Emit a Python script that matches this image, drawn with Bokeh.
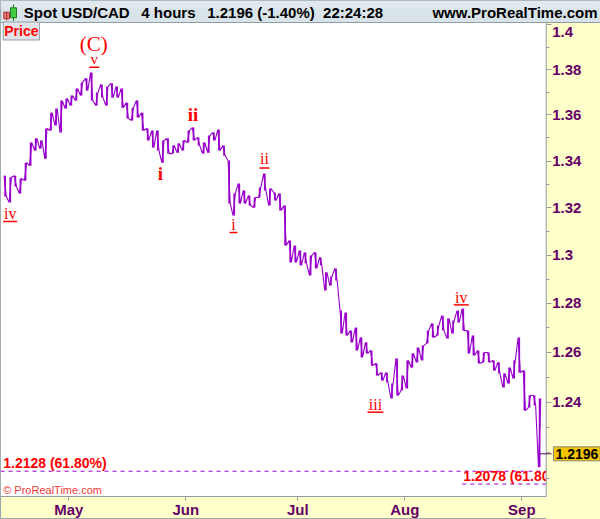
import math
from bokeh.plotting import figure
from bokeh.models import Range1d, FixedTicker, Label, ColumnDataSource
from bokeh.core.properties import value
from bokeh.embed import file_html
from bokeh.resources import INLINE

# ---------------- data ----------------
# trading-day index, 0 = first trading day of May 2017 (4-hour chart, weekends skipped)
days = list(range(-13, 93))
highs = [1.3337, 1.3329, 1.3337, 1.3325, 1.3393, 1.3480, 1.3498, 1.3489, 1.3541, 1.3610,
         1.3628, 1.3663, 1.3672, 1.3685, 1.3716, 1.3743, 1.3761, 1.3787, 1.3698, 1.3734,
         1.3725, 1.3739, 1.3725, 1.3716, 1.3654, 1.3632, 1.3663, 1.3610, 1.3541, 1.3532,
         1.3532, 1.3489, 1.3498, 1.3467, 1.3476, 1.3489, 1.3532, 1.3545, 1.3502, 1.3480,
         1.3510, 1.3523, 1.3536, 1.3467, 1.3402, 1.3261, 1.3303, 1.3274, 1.3252, 1.3244,
         1.3286, 1.3346, 1.3282, 1.3265, 1.3261, 1.3210, 1.3062, 1.3041, 1.3020, 1.3012,
         1.2999, 1.3012, 1.2991, 1.2929, 1.2912, 1.2945, 1.2771, 1.2763, 1.2689, 1.2701,
         1.2661, 1.2641, 1.2608, 1.2556, 1.2519, 1.2519, 1.2475, 1.2576, 1.2507, 1.2568,
         1.2596, 1.2620, 1.2628, 1.2689, 1.2718, 1.2710, 1.2750, 1.2738, 1.2730, 1.2771,
         1.2779, 1.2689, 1.2669, 1.2608, 1.2600, 1.2600, 1.2568, 1.2560, 1.2515, 1.2539,
         1.2568, 1.2661, 1.2527, 1.2427, 1.2427, 1.2415]
lows = [1.3248, 1.3223, 1.3291, 1.3261, 1.3316, 1.3380, 1.3445, 1.3454, 1.3410, 1.3532,
        1.3554, 1.3523, 1.3628, 1.3641, 1.3663, 1.3685, 1.3707, 1.3663, 1.3641, 1.3676,
        1.3641, 1.3676, 1.3676, 1.3632, 1.3585, 1.3576, 1.3589, 1.3532, 1.3489, 1.3458,
        1.3445, 1.3393, 1.3432, 1.3432, 1.3436, 1.3445, 1.3480, 1.3489, 1.3467, 1.3432,
        1.3436, 1.3489, 1.3445, 1.3423, 1.3218, 1.3167, 1.3218, 1.3218, 1.3210, 1.3201,
        1.3244, 1.3274, 1.3210, 1.3231, 1.3189, 1.3041, 1.2970, 1.2970, 1.2958, 1.2966,
        1.2916, 1.2945, 1.2958, 1.2854, 1.2874, 1.2895, 1.2677, 1.2669, 1.2641, 1.2608,
        1.2580, 1.2596, 1.2547, 1.2507, 1.2487, 1.2479, 1.2415, 1.2427, 1.2447, 1.2455,
        1.2539, 1.2560, 1.2568, 1.2637, 1.2661, 1.2669, 1.2689, 1.2657, 1.2677, 1.2722,
        1.2689, 1.2596, 1.2588, 1.2556, 1.2560, 1.2560, 1.2527, 1.2515, 1.2459, 1.2475,
        1.2495, 1.2519, 1.2367, 1.2379, 1.2387, 1.2144]
last_price = 1.2196

month_ticks = [0, 23, 45, 66, 89]
month_labels = ["May", "Jun", "Jul", "Aug", "Sep"]
y_ticks = [1.24, 1.26, 1.28, 1.30, 1.32, 1.34, 1.36, 1.38, 1.40]
y_tick_labels = ["1.24", "1.26", "1.28", "1.3", "1.32", "1.34", "1.36", "1.38", "1.4"]
y_minor = [1.21, 1.22, 1.23, 1.25, 1.27, 1.29, 1.31, 1.33, 1.35, 1.37, 1.39]

wave_text = ["iv", "(C)", "v", "i", "ii", "i", "ii", "iii", "iv"]
wave_day = [-13, 4, 4, 18, 24, 32, 38, 63, 77]
wave_side = ["low", "high", "high", "low", "high", "low", "high", "low", "high"]

fib_levels = [1.2128, 1.2078]
fib_labels = ["1.2128 (61.80%)", "1.2078 (61.80%)"]
fib_start_day = [None, 77.3]

title_parts = ["Spot USD/CAD", "4 hours", "1.2196 (-1.40%)", "22:24:28"]
site = "www.ProRealTime.com"

# ---------------- scale / layout ----------------
PURPLE = "#9900cc"
AXIS_TXT = "#660066"
RED = "#ff0000"
GRID_GRAY = "#909ca6"
YELLOW = "#ffffcc"
W, H = 600, 519
PPD = 5.09                 # px per trading day
X_MAY = 68.3               # px of first May tick
Y_REF, P_REF, PX_LN = 24.3, 1.40, 3110.0   # log price scale: px of 1.40 and px per ln unit


def px_x(px):
    return (px - X_MAY) / PPD


def px_y(py):
    return P_REF * math.exp(-(py - Y_REF) / PX_LN)


XL, XR = px_x(0), px_x(W)
YT, YB = px_y(0), px_y(H)
XE = px_x(545.7)      # right edge of price pane
YE = px_y(496.0)      # bottom edge of price pane
YH = px_y(22.0)       # bottom of header

# per-label style: x offset, text-centre offset, underline offset (None = none), underline width
w_dx = [5, 2, 2.5, -2.5, -0.5, -0.7, -0.3, -16.5, -2]
w_dy = [16.6, -28.5, -13.6, 10.6, -12.7, 8.6, -14.9, 5.9, -11.4]
w_ul = [25, None, -5.3, None, None, 17, -5.7, 13.7, -3.7]
w_uw = [14, 0, 10, 0, 0, 8, 10, 16, 15]
w_fs = ["16px", "21px", "15px", "19px", "19px", "16px", "16px", "16px", "16px"]
w_st = ["normal", "normal", "normal", "bold", "bold", "normal", "normal", "normal", "normal"]

p = figure(width=W, height=H, x_range=Range1d(XL, XR), y_range=Range1d(YB, YT),
           y_axis_type="log", y_axis_location="right", output_backend="svg",
           toolbar_location=None, min_border=0, title=None)
p.background_fill_color = YELLOW
p.border_fill_color = YELLOW
p.outline_line_color = "#9aa5ae"
p.grid.visible = False

# price pane background
p.quad(left=[XL], right=[XE], bottom=[YE], top=[YH], fill_color="white", line_color=None)

# price bars
xs = [d + 0.5 for d in days]
src = ColumnDataSource(dict(x=xs, hi=highs, lo=lows))
p.segment(x0="x", y0="lo", x1="x", y1="hi", source=src, line_color=PURPLE, line_width=1.7)
zx, zy = [], []
for i in range(len(xs)):
    mid = (highs[i] + lows[i]) / 2
    nxt = (highs[i + 1] + lows[i + 1]) / 2 if i + 1 < len(xs) else mid
    pair = (highs[i], lows[i]) if nxt < mid else (lows[i], highs[i])
    zx += [xs[i] - 0.22, xs[i] + 0.22]
    zy += list(pair)
p.line(zx, zy, line_color=PURPLE, line_width=1.1)

# fib levels
fx0 = [XL if s is None else s for s in fib_start_day]
p.segment(x0=fx0, y0=fib_levels, x1=[XE] * 2, y1=fib_levels, line_color=PURPLE,
          line_width=1, line_dash="4 4")
p.text(x=fx0, y=fib_levels, text=fib_labels, x_offset=[2.7, 0.9], y_offset=[-8.3, -8.3],
       text_font=value("Liberation Sans"), text_font_size="14px", text_font_style="bold",
       text_color=RED, text_baseline="middle", text_align="left")

# wave labels
wx = [d + 0.5 for d in wave_day]
wy = [highs[days.index(d)] if s == "high" else lows[days.index(d)]
      for d, s in zip(wave_day, wave_side)]
wsrc = ColumnDataSource(dict(x=wx, y=wy, t=wave_text, dx=w_dx, dy=w_dy, fs=w_fs, st=w_st))
p.text(x="x", y="y", text="t", x_offset="dx", y_offset="dy", text_font_size="fs",
       text_font_style="st", source=wsrc, text_font=value("Liberation Serif"),
       text_color=RED, text_align="center", text_baseline="middle")
ux0, ux1, uy = [], [], []
for ax_, ay_, dx, ul, uw in zip(wx, wy, w_dx, w_ul, w_uw):
    if ul is None:
        continue
    ux0.append(ax_ + (dx - uw / 2) / PPD)
    ux1.append(ax_ + (dx + uw / 2) / PPD)
    uy.append(ay_ * math.exp(-ul / PX_LN))
p.segment(x0=ux0, y0=uy, x1=ux1, y1=uy, line_color=RED, line_width=1.5)

# yellow axis strip covers anything running past the pane edge
p.quad(left=[XE], right=[XR], bottom=[YB], top=[YH], fill_color=YELLOW, line_color=None)
# pane border
p.quad(left=[XL], right=[XE], bottom=[YE], top=[YH], fill_color=None, line_color=GRID_GRAY,
       line_width=1)
# last-price tick toward the price box
p.segment(x0=[xs[-1]], y0=[last_price], x1=[px_x(551)], y1=[last_price], line_color="#550055",
          line_width=1)

# header bar
p.quad(left=[XL], right=[XR], bottom=[YH], top=[YT], fill_color="#d9e3ea", line_color=GRID_GRAY)
p.quad(left=[XL], right=[XR], bottom=[px_y(8)], top=[YT], fill_color="#e1e9ee", line_color=None)
p.quad(left=[px_x(3.3)], right=[px_x(9)], bottom=[px_y(18.3)], top=[px_y(11.7)],
       fill_color="#f07a7a", line_color="#a83030")
p.segment(x0=[px_x(6.2)], y0=[px_y(20)], x1=[px_x(6.2)], y1=[px_y(11.7)], line_color="#a83030")
p.segment(x0=[px_x(13)], y0=[px_y(20.5)], x1=[px_x(13)], y1=[px_y(4)], line_color="#207a20")
p.quad(left=[px_x(10)], right=[px_x(16)], bottom=[px_y(17.3)], top=[px_y(7.3)],
       fill_color="#44cc44", line_color="#207a20")
p.text(x=[px_x(23.3), px_x(140.8), px_x(206.7), px_x(322.6)], y=[px_y(12.3)] * 4,
       text=title_parts, text_font=value("Liberation Sans"), text_font_size="15px",
       text_font_style="bold", text_color="#000000", text_baseline="middle",
       text_align="left")
p.text(x=[px_x(597)], y=[px_y(12.3)], text=[site], text_font=value("Liberation Sans"),
       text_font_size="15px", text_font_style="bold", text_color="#000000",
       text_baseline="middle", text_align="right")

# axes, drawn at the pane edges
yax = p.yaxis[0]
yax.fixed_location = XE
yax.ticker = FixedTicker(ticks=y_ticks, minor_ticks=y_minor)
ovr = dict(zip(y_ticks, y_tick_labels))
ovr[1.40] = ""
yax.major_label_overrides = ovr
xax = p.xaxis[0]
xax.fixed_location = YE
xax.ticker = FixedTicker(ticks=month_ticks, minor_ticks=[])
xax.major_label_overrides = dict(zip(month_ticks, month_labels))
for ax in (xax, yax):
    ax.axis_line_color = None
    ax.major_tick_line_color = GRID_GRAY
    ax.minor_tick_line_color = GRID_GRAY
    ax.major_tick_in = 0
    ax.minor_tick_in = 0
    ax.major_label_text_font = "Liberation Sans"
    ax.major_label_text_font_size = "15px"
    ax.major_label_text_font_style = "bold"
    ax.major_label_text_color = AXIS_TXT
yax.major_tick_out = 5
yax.minor_tick_out = 3
yax.major_label_standoff = 1
xax.major_tick_out = 4
xax.major_label_standoff = 0

# annotations
p.add_layout(Label(x=XL, y=YH, x_offset=2.7, y_offset=0.5, text="Price", text_baseline="top",
                   text_font="Liberation Sans", text_font_size="14px", text_font_style="bold",
                   text_color=RED, background_fill_color="#e0e4e8", border_line_color="#98a0a8",
                   padding=1))
p.add_layout(Label(x=XL, y=YE, x_offset=2.7, y_offset=6.5, text="\u00a9 ProRealTime.com",
                   text_baseline="middle", text_font="Liberation Sans",
                   text_font_size="11px", text_color="#ee3b3b"))
p.add_layout(Label(x=XE, y=last_price, x_offset=7.3, y_offset=0, text="1.2196",
                   text_baseline="middle", text_font="Liberation Sans", text_font_size="14px",
                   text_font_style="bold", text_color="#000000", background_fill_color="#f5c400",
                   border_line_color="#8a8a7a", padding=2))
p.add_layout(Label(x=XE, y=1.40, x_offset=6, y_offset=-7.4, text="1.4", text_baseline="middle",
                   text_font="Liberation Sans", text_font_size="15px", text_font_style="bold",
                   text_color=AXIS_TXT))

open("out.html", "w").write(file_html(p, INLINE))
